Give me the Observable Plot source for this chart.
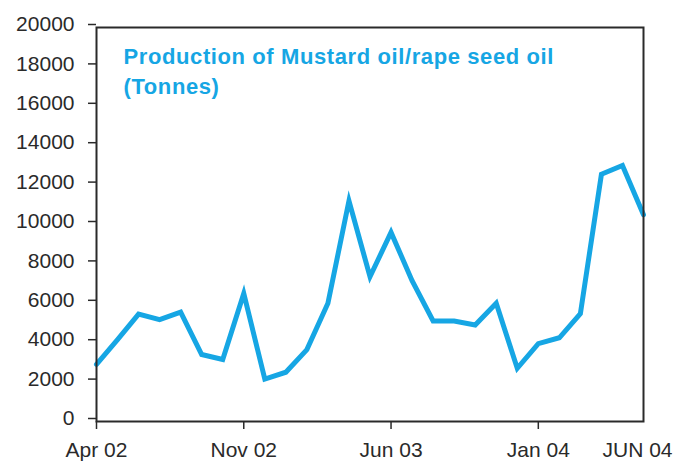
<!DOCTYPE html>
<html>
<head>
<meta charset="utf-8">
<script src="https://cdn.jsdelivr.net/npm/d3@7"></script>
<script src="https://cdn.jsdelivr.net/npm/@observablehq/plot@0.6"></script>
<style>
  html, body { margin: 0; padding: 0; background: #fff; }
  #chart svg { display: block; }
  .title-text text { letter-spacing: 0.6px; }
</style>
</head>
<body>
<div id="chart"></div>
<script>
const months = ["Apr 02","May 02","Jun 02","Jul 02","Aug 02","Sep 02","Oct 02","Nov 02","Dec 02",
  "Jan 03","Feb 03","Mar 03","Apr 03","May 03","Jun 03","Jul 03","Aug 03","Sep 03","Oct 03","Nov 03","Dec 03",
  "Jan 04","Feb 04","Mar 04","Apr 04","May 04","Jun 04"];
const production = [2900, 4150, 5450, 5170, 5550, 3400, 3150, 6500, 2150,
  2500, 3650, 6000, 11200, 7350, 9600, 7150, 5100, 5100, 4900, 6000, 2700,
  3950, 4250, 5480, 12550, 13000, 10500];
const tickIndex = [0, 7, 14, 21];
const tickLabels = ["Apr 02", "Nov 02", "Jun 03", "Jan 04"];
const lastLabel = "JUN 04";
const yTicks = [0, 2000, 4000, 6000, 8000, 10000, 12000, 14000, 16000, 18000, 20000];
const titleText = "Production of Mustard oil/rape seed oil\n(Tonnes)";

const data = months.map((m, i) => ({i, month: m, value: production[i]}));

const blue = "#16a6e4";
const ink = "#2a2a2a";

const chart = Plot.plot({
  width: 691,
  height: 465,
  marginLeft: 96,
  marginRight: 48,
  marginTop: 27,
  marginBottom: 44,
  style: {fontFamily: "'Liberation Sans', Arial, sans-serif", background: "#fff", color: ink},
  x: {type: "linear", domain: [0, months.length - 1]},
  y: {domain: [0, 20000]},
  marks: [
    Plot.axisY({ticks: yTicks, tickFormat: d => String(d), tickSize: 8, tickPadding: 14,
      fontSize: 21, dy: -3, stroke: ink, fill: ink, strokeWidth: 1.5, label: null}),
    Plot.axisX({ticks: tickIndex, tickFormat: i => tickLabels[tickIndex.indexOf(i)], tickSize: 8,
      tickPadding: 13, fontSize: 21, stroke: ink, fill: ink, strokeWidth: 1.5, label: null}),
    Plot.axisX({ticks: [months.length - 1], tickFormat: () => lastLabel, tickSize: 0,
      tickPadding: 21, fontSize: 21, dx: -6, fill: ink, label: null}),
    Plot.lineY(data, {x: "i", y: "value", stroke: blue, strokeWidth: 5, strokeLinejoin: "miter", strokeMiterlimit: 6}),
    Plot.frame({stroke: ink, strokeWidth: 2}),
    Plot.text([titleText], {frameAnchor: "top-left", text: d => d, dx: 27, dy: 15, lineAnchor: "top",
      textAnchor: "start", fontSize: 22, fontWeight: "bold", fill: blue, lineHeight: 1.38,
      className: "title-text"})
  ]
});
document.getElementById("chart").appendChild(chart);
</script>
</body>
</html>
